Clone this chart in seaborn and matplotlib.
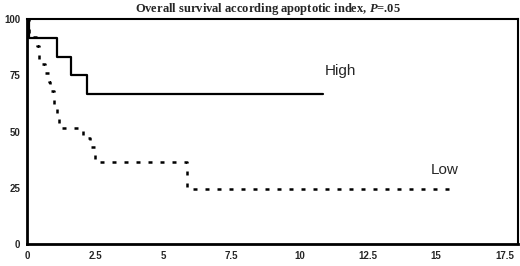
import numpy as np
import pandas as pd
import matplotlib
matplotlib.use("Agg")
import matplotlib.pyplot as plt
import seaborn as sns

# Kaplan-Meier step data (time in years, survival %)
high_t = [0, 0.07, 1.1, 1.62, 2.2, 10.85]
high_s = [100, 91.7, 83.3, 75.0, 66.7, 66.7]

low_t = [0, 0.08, 0.35, 0.45, 0.65, 0.8, 0.85, 1.0, 1.1, 1.18, 2.05, 2.3, 2.5, 5.85, 15.75]
low_s = [100, 92, 88, 80, 76, 72, 68, 60, 56, 51.5, 47, 43, 36.4, 24.4, 24.4]

xticks = [0, 2.5, 5, 7.5, 10, 12.5, 15, 17.5]
xticklabels = ["0", "2.5", "5", "7.5", "10", "12.5", "15", "17.5"]
yticks = [0, 25, 50, 75, 100]

high = pd.DataFrame({"time": high_t, "surv": high_s})
low = pd.DataFrame({"time": low_t, "surv": low_s})

sns.set_theme(style="white")
plt.rcParams["font.family"] = ["Liberation Sans", "DejaVu Sans"]
plt.rcParams["mathtext.fontset"] = "custom"
plt.rcParams["mathtext.it"] = "Liberation Serif:italic:bold"
plt.rcParams["mathtext.rm"] = "Liberation Serif:bold"

fig = plt.figure(figsize=(5.2, 2.66), dpi=100)
ax = fig.add_axes([27 / 520, 22 / 266, 491 / 520, 225 / 266])

sns.lineplot(data=high, x="time", y="surv", ax=ax, color="black", lw=1.6,
             drawstyle="steps-post", estimator=None, sort=False)
sns.lineplot(data=low, x="time", y="surv", ax=ax, color="black", lw=1.8,
             drawstyle="steps-post", estimator=None, sort=False,
             linestyle=(0, (1.6, 3.2)))

ax.text(10.9, 77, "High", fontsize=11, ha="left", va="center")
ax.text(14.8, 33, "Low", fontsize=11, ha="left", va="center")

ax.set_xlim(0, 18)
ax.set_ylim(0, 100)
ax.set_xticks(xticks)
ax.set_xticklabels(xticklabels)
ax.set_yticks(yticks)
ax.set_xlabel("")
ax.set_ylabel("")
for lab in ax.get_xticklabels() + ax.get_yticklabels():
    lab.set_fontweight("bold")
    lab.set_fontsize(7)
ax.tick_params(axis="both", direction="out", length=3, width=1.5, color="black", pad=2)
ax.tick_params(axis="x", pad=2)

for side in ["left", "bottom"]:
    ax.spines[side].set_linewidth(2)
for side in ["top", "right"]:
    ax.spines[side].set_linewidth(1.5)
for sp in ax.spines.values():
    sp.set_color("black")

fig.text(0.515, 0.968, "Overall survival according apoptotic index, $P$=.05",
         ha="center", va="center", fontsize=9, fontweight="bold",
         family="Liberation Serif")

fig.savefig("out.png", dpi=100)
